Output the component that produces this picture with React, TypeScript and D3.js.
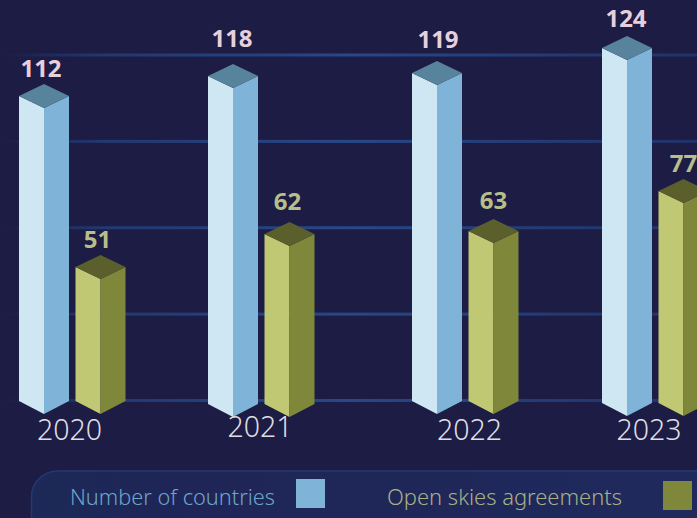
import React from "react";
import * as d3 from "d3";

const years = ["2020", "2021", "2022", "2023"];
const countries = [112, 118, 119, 124];
const agreements = [51, 62, 63, 77];
const gridSteps = [0, 1, 2, 3, 4];
const legendLabels = ["Number of countries", "Open skies agreements"];

const W = 697, H = 518;
const halfW = 25, rise = 12;
const x = d3.scaleOrdinal<string, number>().domain(years).range([44, 233, 437, 627]);
const seriesOffset = d3.scaleOrdinal<string, number>().domain(["countries", "agreements"]).range([0, 56.5]);
// hand-drawn infographic: heights are not strictly proportional, so the scale is piecewise
const y = d3.scaleLinear().domain([0, 51, 63, 77, 112, 118, 119, 124]).range([415, 279, 243, 203, 108, 88, 85, 60]);
const grid = d3.scaleLinear().domain([0, 4]).range([400.5, 55]);
const baseNudge = [-1, 2, -1, 1];
const labelNudgeC = [0, -10, -6, -2];
const labelNudgeA = [0, -5, -3, 0];
const labelDxC = [-3, -1, 1, -1];
const labelDxA = [-3, -2, 0, 0];
const yearDx = [25.5, 27, 32.5, 22];
const yearDy = [0, -3, 0, 0];
const FONT = "'Noto Sans', sans-serif";

const line = d3.line<[number, number]>();
const poly = (pts: [number, number][]) => line(pts) + "Z";

function Bar({ cx, top, base, colors }: { cx: number; top: number; base: number; colors: string[] }) {
  const l = cx - halfW, r = cx + halfW;
  return (
    <g>
      <path d={poly([[l, top - rise], [cx, top], [cx, base], [l, base - rise - 1]])} fill={colors[0]} />
      <path d={poly([[cx, top], [r, top - rise], [r, base - rise - 1], [cx, base]])} fill={colors[1]} />
      <path d={poly([[l, top - rise], [cx, top - rise * 2], [r, top - rise], [cx, top]])} fill={colors[2]} />
    </g>
  );
}

export default function App() {
  return (
    <svg width={W} height={H} style={{ position: "absolute", left: 0, top: 0, background: "#1c1c44" }} fontFamily={FONT}>
      <defs>
        <linearGradient id="gl" x1="0" x2="1" y1="0" y2="0">
          <stop offset="0" stopColor="#24427f" stopOpacity="0" />
          <stop offset="0.15" stopColor="#24427f" stopOpacity="0.75" />
          <stop offset="0.5" stopColor="#27488a" />
          <stop offset="1" stopColor="#22366e" stopOpacity="0.85" />
        </linearGradient>
        <linearGradient id="lg" x1="0" x2="1" y1="0" y2="0">
          <stop offset="0" stopColor="#1c2a58" />
          <stop offset="0.2" stopColor="#1f2557" />
          <stop offset="1" stopColor="#1f2a5c" />
        </linearGradient>
      </defs>
      <rect width={W} height={H} fill="#1c1c44" />
      {gridSteps.map((g) => (
        <rect key={g} x={0} width={W} y={grid(g) - 1.5} height={3} fill="url(#gl)" />
      ))}
      {years.map((yr, i) => {
        const cx = x(yr);
        const base = 415 + baseNudge[i];
        const cx2 = cx + seriesOffset("agreements");
        return (
          <g key={yr}>
            <Bar cx={cx} top={y(countries[i])} base={base} colors={["#cfe7f2", "#7fb4d8", "#58839c"]} />
            <Bar cx={cx2} top={y(agreements[i])} base={base} colors={["#c0c874", "#7f883a", "#5b5f2c"]} />
            <text x={cx + labelDxC[i]} y={y(countries[i]) - 31 + labelNudgeC[i]} textAnchor="middle" fontSize={24} fontWeight={700} fill="#e8cfdc">{countries[i]}</text>
            <text x={cx2 + labelDxA[i]} y={y(agreements[i]) - 31 + labelNudgeA[i]} textAnchor="middle" fontSize={24} fontWeight={700} fill="#b8be8a">{agreements[i]}</text>
            <text x={cx + yearDx[i]} y={440 + yearDy[i]} textAnchor="middle" fontSize={28.5} fontWeight={350} fill="#dedee2">{yr}</text>
          </g>
        );
      })}
      <rect x={31.5} y={471} width={700} height={70} rx={26} fill="url(#lg)" stroke="#24386f" strokeWidth={1.5} />
      <text x={70} y={505} fontSize={22.5} fontWeight={350} fill="#6ea5c9" textLength={205} lengthAdjust="spacingAndGlyphs">{legendLabels[0]}</text>
      <rect x={296} y={479} width={29} height={29} fill="#7fb4d8" />
      <text x={387} y={505} fontSize={22.5} fontWeight={350} fill="#a9b086" textLength={235} lengthAdjust="spacingAndGlyphs">{legendLabels[1]}</text>
      <rect x={663} y={481} width={29} height={29} fill="#7f883a" />
    </svg>
  );
}
